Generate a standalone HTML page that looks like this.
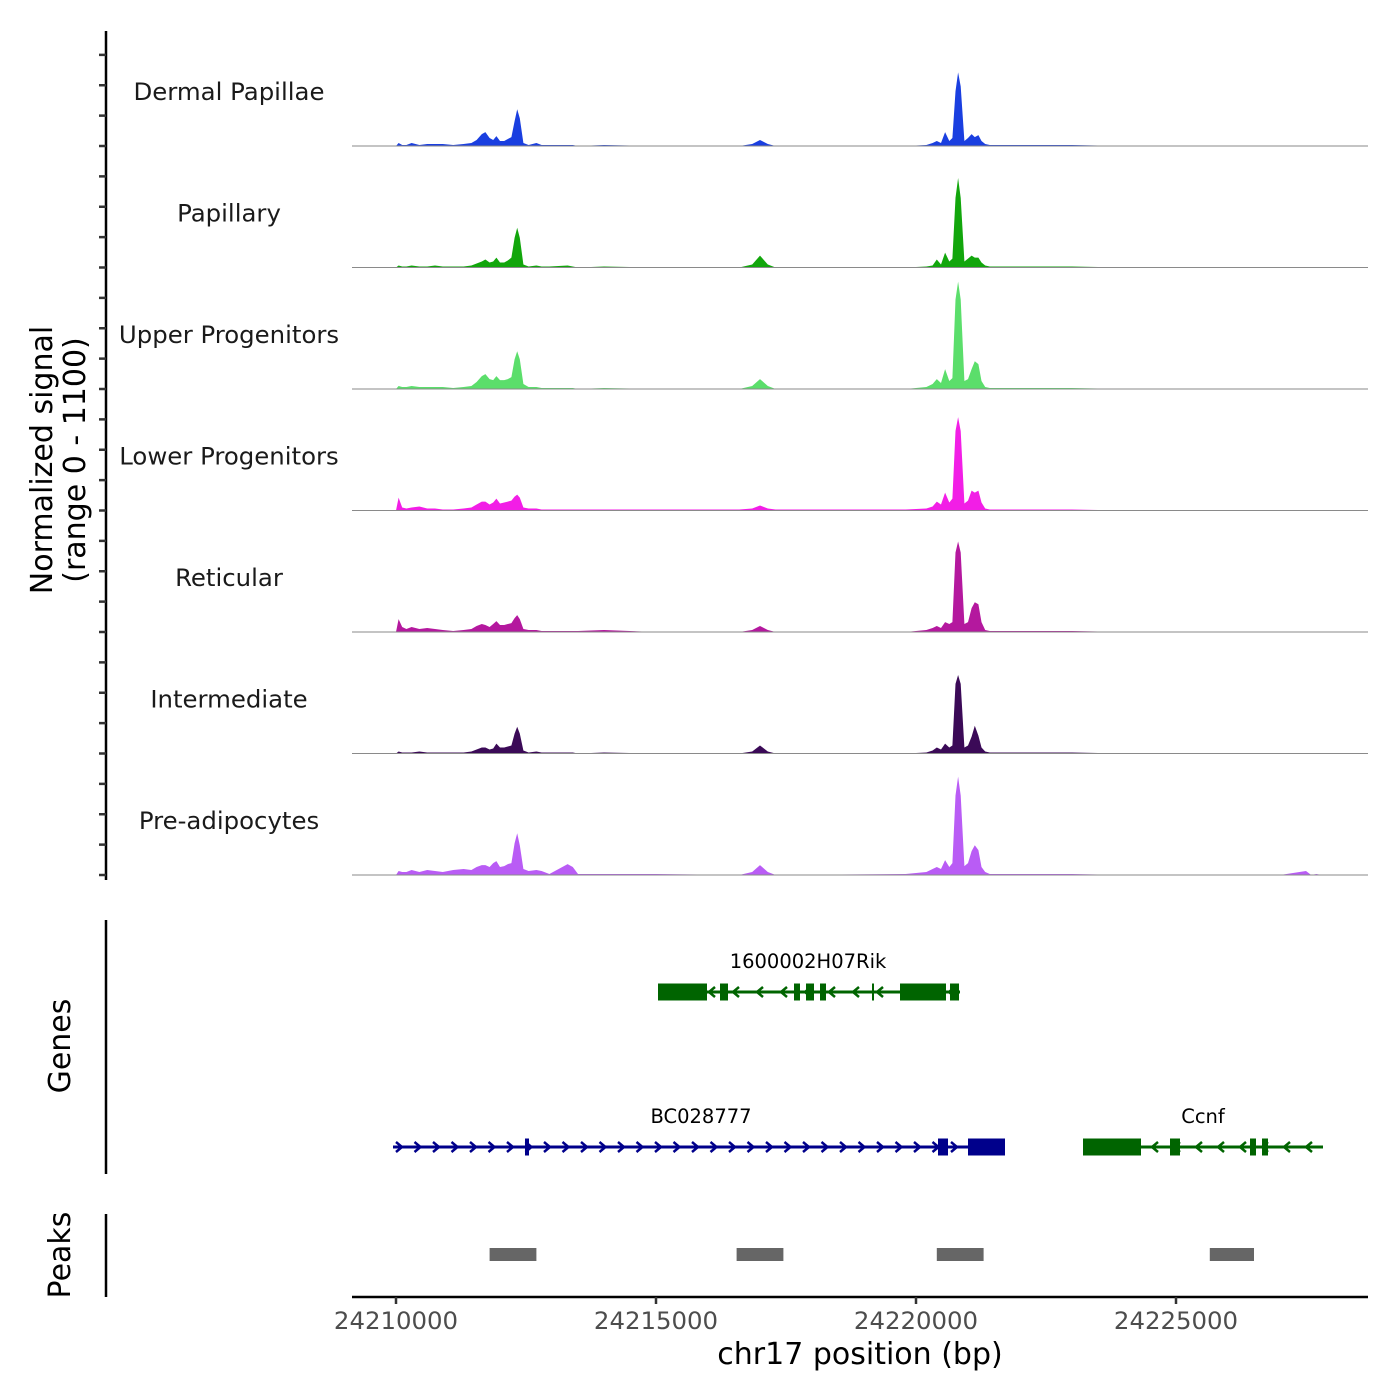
<!DOCTYPE html>
<html><head><meta charset="utf-8"><style>
html,body{margin:0;padding:0;background:#fff;}
svg{display:block;font-family:"DejaVu Sans","Liberation Sans",sans-serif;}
</style></head><body>
<svg id="chart" width="1400" height="1400" viewBox="0 0 1400 1400" xmlns="http://www.w3.org/2000/svg"></svg>
<script>
const START = 24210000;
const trackNames = ["Dermal Papillae","Papillary","Upper Progenitors","Lower Progenitors","Reticular","Intermediate","Pre-adipocytes"];
const trackColors = ["#1a3fe0","#12a60c","#5bde6b","#f21ee6","#b4189e","#3b0a57","#b95cf5"];
const xTicks = [24210000,24215000,24220000,24225000];
// bin positions (kb offset from START)
const pos = [0.0,0.05,0.12,0.2,0.3,0.45,0.6,0.75,0.9,1.1,1.3,1.45,1.55,1.65,1.72,1.8,1.87,1.93,2.0,2.08,2.15,2.22,2.28,2.33,2.38,2.45,2.55,2.7,2.8,2.95,3.3,3.4,3.5,4.0,5.0,6.6,6.85,7.0,7.15,7.3,9.8,10.2,10.32,10.4,10.48,10.56,10.64,10.7,10.76,10.81,10.86,10.93,11.0,11.07,11.13,11.2,11.26,11.33,11.42,11.6,12.0,13.0,14.0,17.0,17.5,17.6,17.7,17.8,17.9];
const dermalVals = [0,27,9,9,27,9,18,18,18,9,18,27,54,108,126,72,54,90,45,45,63,81,225,333,252,27,9,27,9,9,9,9,0,9,0,0,18,54,18,0,0,9,27,45,27,126,45,72,495,666,540,45,72,108,81,99,45,18,9,9,9,9,0,0,0,0,0,0,0];
const papillaryVals = [0,18,9,9,18,9,9,18,9,9,9,18,36,54,72,45,54,90,45,45,63,90,270,360,270,27,9,18,9,9,18,9,0,9,0,0,27,108,27,0,0,9,18,72,27,135,54,81,630,810,630,54,81,108,90,90,45,18,9,9,9,9,0,0,0,0,0,0,0];
const upperVals = [0,27,18,18,27,18,18,18,18,9,18,27,63,117,135,90,81,117,81,81,90,108,270,342,270,45,18,18,9,9,9,9,0,9,0,0,27,90,27,0,0,18,45,90,54,180,72,99,810,972,810,72,90,180,252,225,72,18,9,9,9,9,0,0,0,0,0,0,0];
const lowerVals = [0,117,27,18,27,36,18,18,9,9,18,27,54,81,81,54,72,108,63,72,81,90,126,144,117,27,18,18,9,9,9,9,9,9,9,9,18,45,18,9,9,18,36,81,54,162,72,108,720,846,720,63,90,180,162,180,72,18,9,9,9,9,0,0,0,0,0,0,0];
const reticularVals = [0,117,45,27,45,27,36,27,18,9,18,27,54,72,63,45,72,99,63,63,72,81,126,153,117,27,18,18,9,9,9,9,9,18,0,0,18,54,18,0,0,18,36,54,36,90,72,90,720,819,720,72,90,216,270,252,90,18,9,9,9,9,0,0,0,0,0,0,0];
const intermediateVals = [0,18,9,9,9,18,9,9,9,9,9,18,36,54,54,36,45,90,54,54,63,72,180,243,180,27,9,18,9,9,9,9,0,9,0,0,18,72,18,0,0,9,27,54,36,90,54,72,630,711,630,54,72,153,252,162,54,18,9,9,9,9,0,0,0,0,0,0,0];
const preadipoVals = [0,36,27,27,45,27,45,36,27,45,54,45,72,90,90,72,108,126,72,81,99,108,288,378,270,54,36,45,36,9,99,72,9,9,9,0,27,90,27,0,9,27,54,72,54,135,72,108,720,891,720,81,108,216,270,225,72,27,9,9,9,9,0,0,36,0,9,0,0];
const trackVals = [dermalVals,papillaryVals,upperVals,lowerVals,reticularVals,intermediateVals,preadipoVals];
const peakStarts = [24211800,24216550,24220400,24225650];
const peakEnds = [24212700,24217450,24221300,24226500];

const NS="http://www.w3.org/2000/svg";
const svg=document.getElementById('chart');
function mk(tag,attrs,parent){const e=document.createElementNS(NS,tag);for(const k in attrs)e.setAttribute(k,attrs[k]);(parent||svg).appendChild(e);return e;}
const xS = bp => 396 + (bp-START)/1000*52;
const trackH = 121.5, firstBase = 146, YMAX = 1100;
const yS = (v,base) => base - v/YMAX*trackH;

trackNames.forEach((name,i)=>{
  const base = firstBase + i*trackH;
  const g = mk('g',{});
  
  
  const vals = trackVals[i];
  let d = 'M'+xS(START+pos[0]*1000)+','+base;
  pos.forEach((p,j)=>{ d += ' L'+xS(START+p*1000).toFixed(1)+','+yS(vals[j],base).toFixed(1); });
  d += ' L'+xS(START+pos[pos.length-1]*1000)+','+base+' Z';
  const a = mk('path',{d:d,fill:trackColors[i]},g);
  
  
  const bl = mk('line',{x1:352,x2:1368,y1:base,y2:base,stroke:'#8a8a8a','stroke-width':1},g);
  
  
  const t = mk('text',{x:229,y:base-46,'text-anchor':'middle','font-size':24.4,fill:'#1a1a1a'},g);
  t.textContent = name;
  
  
});

const ax = mk('line',{x1:106,x2:106,y1:31,y2:880,stroke:'#000','stroke-width':2.5});


for(let y=firstBase-3*trackH/4; y<=firstBase+6*trackH+0.5; y+=trackH/4){
  const tk = mk('line',{x1:99,x2:106,y1:y,y2:y,stroke:'#333','stroke-width':2.5});
  
  
}
const yt = mk('text',{transform:'translate(52,460) rotate(-90)','text-anchor':'middle','font-size':30,fill:'#000'});


const ts1=mk('tspan',{x:0,dy:0},yt); ts1.textContent='Normalized signal';
const ts2=mk('tspan',{x:0,dy:33},yt); ts2.textContent='(range 0 - 1100)';

const ga = mk('line',{x1:106,x2:106,y1:920,y2:1174,stroke:'#000','stroke-width':2.5});


const gt = mk('text',{transform:'translate(70,1046) rotate(-90)','text-anchor':'middle','font-size':30});
gt.textContent='Genes';



function gene(name,x1,x2,y,color,dir,boxes,labelX,arrowStep){
  const g=mk('g',{});
  
  
  mk('line',{x1:x1,x2:x2,y1:y,y2:y,stroke:color,'stroke-width':3},g);
  for(let x=x1+6;x<x2-4;x+=arrowStep){
    const d = dir>0 ? `M${x-3},${y-5} L${x+3},${y} L${x-3},${y+5}` : `M${x+3},${y-5} L${x-3},${y} L${x+3},${y+5}`;
    mk('path',{d:d,stroke:color,'stroke-width':2.5,fill:'none'},g);
  }
  boxes.forEach(b=>mk('rect',{x:b[0],y:y-b[2]/2,width:b[1]-b[0],height:b[2],fill:color},g));
  const t=mk('text',{x:labelX,y:y-24,'text-anchor':'middle','font-size':19.5,fill:'#000'},g);
  t.textContent=name;
}
gene('1600002H07Rik',658,960,992,'#006400',-1,[[658,707,17],[720,728,17],[794,800,17],[806,814,17],[820,826,17],[872,874,17],[900,946,17],[950,959,17]],808,24);
gene('BC028777',393,1005,1147,'#00008b',1,[[525,529,17],[938,948,17],[968,1005,17]],701,18.5);
gene('Ccnf',1083,1323,1147,'#006400',-1,[[1083,1141,17],[1170,1180,17],[1250,1256,17],[1262,1268,17]],1203,22);

const pa = mk('line',{x1:106,x2:106,y1:1214,y2:1297,stroke:'#000','stroke-width':2.5});


const pt = mk('text',{transform:'translate(70,1255) rotate(-90)','text-anchor':'middle','font-size':30});
pt.textContent='Peaks';


peakStarts.forEach((s,i)=>{
  const r=mk('rect',{x:xS(s),y:1248,width:xS(peakEnds[i])-xS(s),height:13,fill:'#666'});
  
  
});

const xa = mk('line',{x1:352,x2:1368,y1:1297,y2:1297,stroke:'#000','stroke-width':2.5});


xTicks.forEach(v=>{
  const tk=mk('line',{x1:xS(v),x2:xS(v),y1:1297,y2:1304,stroke:'#333','stroke-width':2.5});
  
  
  const tl=mk('text',{x:xS(v),y:1329,'text-anchor':'middle','font-size':24.4,fill:'#4d4d4d'});
  tl.textContent=v;
  
  
});
const xt=mk('text',{x:860,y:1364,'text-anchor':'middle','font-size':30,fill:'#000'});
xt.textContent='chr17 position (bp)';


</script>
</body></html>
